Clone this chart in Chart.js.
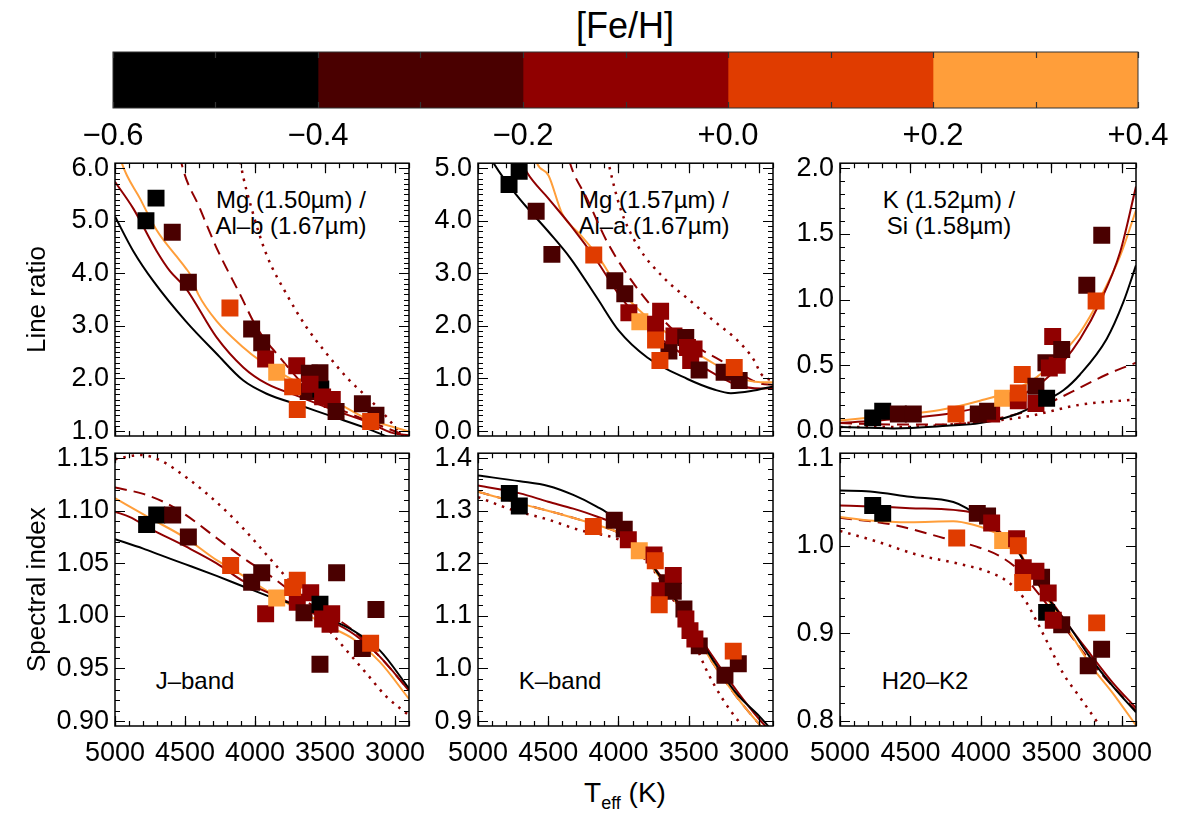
<!DOCTYPE html>
<html>
<head>
<meta charset="utf-8">
<script src="https://cdn.jsdelivr.net/npm/chart.js@4.4.1/dist/chart.umd.min.js"></script>
<style>
  body { margin: 0; background: #fff; width: 1184px; height: 818px; position: relative; overflow: hidden;
         font-family: "Liberation Sans", Arial, sans-serif; color: #000; }
  canvas { position: absolute; }
  .lbl { position: absolute; white-space: nowrap; text-align: center; }
</style>
</head>
<body>
<div class="lbl" style="left:525px;top:6px;width:200px;font-size:36px;line-height:40px;">[Fe/H]</div>
<div class="lbl" style="left:191px;top:187px;width:200px;font-size:24px;line-height:26px;">Mg (1.50µm) /<br>Al–b (1.67µm)</div>
<div class="lbl" style="left:554px;top:187px;width:200px;font-size:24px;line-height:26px;">Mg (1.57µm) /<br>Al–a (1.67µm)</div>
<div class="lbl" style="left:849px;top:187px;width:200px;font-size:24px;line-height:26px;">K (1.52µm) /<br>Si (1.58µm)</div>
<div class="lbl" style="left:95px;top:668px;width:200px;font-size:24px;line-height:26px;">J–band</div>
<div class="lbl" style="left:460px;top:668px;width:200px;font-size:24px;line-height:26px;">K–band</div>
<div class="lbl" style="left:825px;top:668px;width:200px;font-size:24px;line-height:26px;">H20–K2</div>
<div class="lbl" style="left:475px;top:777px;width:300px;font-size:28px;line-height:32px;">T<span style="font-size:18px;position:relative;top:7px;">eff</span> (K)</div>

<script>
// metallicity colour bar
const fehEdges = [-0.6, -0.4, -0.2, 0.0, 0.2, 0.4];
const fehColors = ['#000000', '#4a0000', '#900000', '#e03c00', '#ff9e3a'];
const fehTicks = [-0.6, -0.4, -0.2, 0.0, 0.2, 0.4];

const teffTicks = [5000, 4500, 4000, 3500, 3000];

// Mg (1.50um) / Al-b (1.67um)
const mgAlbTeff = [4779, 4707, 4591, 4476, 4179, 4024, 3952, 3924, 3620, 3530, 3845, 3702, 3612, 3536, 3731, 3607, 3517, 3448, 3421, 3698, 3233, 3136, 3174];
const mgAlbRatio = [5.00, 5.43, 4.78, 3.83, 3.34, 2.94, 2.68, 2.37, 1.75, 1.80, 2.12, 2.24, 2.10, 2.11, 1.84, 1.89, 1.65, 1.60, 1.37, 1.41, 1.52, 1.30, 1.18];
const mgAlbFeh = [-0.5, -0.5, -0.3, -0.3, 0.1, -0.3, -0.3, -0.1, -0.3, -0.5, 0.3, -0.1, -0.3, -0.3, 0.1, -0.1, -0.1, -0.1, -0.3, 0.1, -0.3, -0.3, 0.1];
const mgAlbBlack = [[5000, 5.08], [4869, 4.42], [4726, 3.85], [4495, 3.09], [4274, 2.47], [4083, 1.96], [3917, 1.71], [3679, 1.49], [3440, 1.27], [3202, 1.05], [3060, 0.90], [2900, 0.76]];
const mgAlbRed = [[5000, 5.74], [4869, 5.23], [4702, 4.42], [4607, 4.04], [4495, 3.72], [4274, 2.78], [4083, 2.21], [3917, 1.90], [3679, 1.65], [3440, 1.40], [3202, 1.18], [3012, 0.96], [2900, 0.92]];
const mgAlbOrange = [[5000, 6.6], [4952, 6.1], [4821, 5.42], [4702, 4.82], [4560, 4.32], [4495, 4.10], [4464, 3.98], [4405, 3.60], [4274, 3.09], [4083, 2.59], [3964, 2.34], [3679, 1.90], [3440, 1.58], [3202, 1.24], [2900, 0.99]];
const mgAlbDash = [[4560, 6.6], [4524, 6.08], [4393, 5.23], [4274, 4.48], [4107, 3.60], [3988, 2.97], [3845, 2.47], [3560, 1.65], [3321, 1.33], [3083, 1.08], [2900, 0.89]];
const mgAlbDot = [[4130, 6.6], [4100, 6.05], [4024, 5.23], [3917, 4.35], [3774, 3.60], [3631, 2.97], [3488, 2.47], [3345, 2.02], [3202, 1.65], [3060, 1.27], [2964, 0.96], [2900, 0.80]];
const mgAlbTicks = [1, 2, 3, 4, 5, 6];

// Mg (1.57um) / Al-a (1.67um)
const mgAlaTeff = [4779, 4707, 4586, 4474, 4176, 4026, 3955, 3926, 3848, 3700, 3736, 3641, 3736, 3705, 3605, 3521, 3509, 3462, 3486, 3426, 3248, 3141, 3176];
const mgAlaRatio = [4.69, 4.94, 4.18, 3.36, 3.35, 2.86, 2.61, 2.25, 2.08, 2.28, 2.03, 1.52, 1.73, 1.34, 1.81, 1.78, 1.59, 1.56, 1.34, 1.16, 1.12, 0.96, 1.21];
const mgAlaFeh = [-0.5, -0.5, -0.3, -0.3, 0.1, -0.3, -0.3, -0.1, 0.3, -0.1, -0.1, -0.3, 0.1, 0.1, -0.1, -0.3, -0.1, -0.1, -0.1, -0.3, -0.3, -0.3, 0.1];
const mgAlaBlack = [[4950, 5.4], [4890, 5.10], [4724, 4.48], [4498, 3.79], [4343, 3.29], [4152, 2.53], [3998, 1.91], [3795, 1.40], [3509, 0.99], [3319, 0.79], [3200, 0.72], [3057, 0.76], [2900, 0.85]];
const mgAlaRed = [[4720, 5.3], [4652, 4.92], [4498, 4.42], [4343, 3.92], [4152, 3.23], [3998, 2.60], [3795, 1.97], [3509, 1.40], [3319, 1.09], [3152, 0.87], [2986, 0.81], [2900, 0.82]];
const mgAlaOrange = [[4620, 5.5], [4581, 5.10], [4498, 4.86], [4402, 4.14], [4271, 3.73], [4152, 3.35], [3998, 2.72], [3795, 2.16], [3509, 1.59], [3319, 1.28], [3152, 1.02], [2986, 0.93], [2900, 0.93]];
const mgAlaDash = [[4380, 5.5], [4343, 5.08], [4224, 4.42], [4081, 3.60], [3938, 2.98], [3795, 2.47], [3629, 1.97], [3438, 1.59], [3271, 1.34], [3129, 1.09], [2986, 0.90], [2900, 0.88]];
const mgAlaDot = [[4100, 5.5], [4069, 5.08], [3986, 4.23], [3867, 3.54], [3676, 2.91], [3486, 2.47], [3319, 2.09], [3152, 1.72], [3033, 1.34], [2986, 1.09], [2900, 0.95]];
const mgAlaTicks = [0, 1, 2, 3, 4, 5];

// K (1.52um) / Si (1.58um)
const kSiTeff = [4768, 4697, 4586, 4480, 4177, 3924, 4019, 3953, 3846, 3735, 3735, 3707, 3610, 3610, 3534, 3539, 3515, 3459, 3491, 3427, 3249, 3183, 3143];
const kSiRatio = [0.10, 0.15, 0.13, 0.13, 0.13, 0.13, 0.13, 0.15, 0.25, 0.23, 0.29, 0.43, 0.34, 0.21, 0.25, 0.52, 0.48, 0.50, 0.72, 0.62, 1.11, 0.99, 1.49];
const kSiFeh = [-0.5, -0.5, -0.3, -0.3, 0.1, -0.1, -0.3, -0.3, 0.3, -0.1, 0.1, 0.1, -0.3, -0.1, -0.5, -0.3, -0.1, -0.1, -0.1, -0.3, -0.3, 0.1, -0.3];
const kSiBlack = [[5000, 0.03], [4621, 0.02], [4243, 0.04], [4007, 0.06], [3770, 0.12], [3604, 0.20], [3415, 0.31], [3297, 0.43], [3108, 0.70], [2990, 0.98], [2900, 1.26]];
const kSiRed = [[5000, 0.06], [4621, 0.09], [4243, 0.13], [4007, 0.18], [3770, 0.25], [3604, 0.34], [3415, 0.53], [3297, 0.70], [3155, 0.98], [3013, 1.36], [2900, 1.86]];
const kSiOrange = [[5000, 0.08], [4621, 0.12], [4290, 0.16], [4007, 0.23], [3770, 0.31], [3604, 0.41], [3415, 0.60], [3297, 0.75], [3155, 1.01], [3013, 1.33], [2900, 1.68]];
const kSiDash = [[5000, 0.06], [4621, 0.05], [4243, 0.05], [3911, 0.09], [3675, 0.15], [3486, 0.23], [3297, 0.33], [3108, 0.43], [2900, 0.52]];
const kSiDot = [[5000, 0.03], [4600, 0.03], [4102, 0.06], [3675, 0.11], [3297, 0.20], [2900, 0.24]];
const kSiTicks = [0.0, 0.5, 1.0, 1.5, 2.0];

// J-band index
const jBandTeff = [4774, 4702, 4588, 4476, 4174, 4024, 3952, 3924, 3845, 3698, 3731, 3698, 3650, 3602, 3536, 3517, 3464, 3452, 3417, 3536, 3233, 3136, 3174];
const jBandIndex = [1.087, 1.096, 1.096, 1.075, 1.048, 1.032, 1.041, 1.002, 1.017, 1.013, 1.027, 1.034, 1.003, 1.022, 1.011, 0.997, 0.992, 1.002, 1.041, 0.954, 0.969, 1.006, 0.974];
const jBandFeh = [-0.5, -0.5, -0.3, -0.3, 0.1, -0.3, -0.3, -0.1, 0.3, -0.1, 0.1, 0.1, -0.3, -0.1, -0.5, -0.1, -0.1, -0.1, -0.3, -0.3, -0.3, -0.3, 0.1];
const jBandBlack = [[5000, 1.073], [4798, 1.064], [4679, 1.058], [4495, 1.049], [4274, 1.038], [4083, 1.028], [3869, 1.017], [3679, 1.009], [3488, 0.998], [3298, 0.986], [3107, 0.967], [2900, 0.931]];
const jBandRed = [[5000, 1.099], [4893, 1.094], [4750, 1.083], [4495, 1.066], [4274, 1.050], [4083, 1.033], [3869, 1.020], [3679, 1.008], [3488, 0.997], [3298, 0.983], [3107, 0.961], [2900, 0.929]];
const jBandOrange = [[5000, 1.112], [4750, 1.093], [4495, 1.074], [4274, 1.053], [4083, 1.038], [3869, 1.020], [3679, 1.005], [3488, 0.991], [3298, 0.978], [3107, 0.956], [2900, 0.921]];
const jBandDash = [[5000, 1.122], [4798, 1.116], [4631, 1.107], [4495, 1.096], [4274, 1.074], [4083, 1.055], [3869, 1.036], [3679, 1.017], [3488, 1.003], [3298, 0.986], [3107, 0.961], [2900, 0.929]];
const jBandDot = [[5000, 1.149], [4821, 1.153], [4679, 1.148], [4464, 1.129], [4274, 1.108], [4083, 1.083], [3917, 1.058], [3774, 1.036], [3631, 1.011], [3488, 0.989], [3345, 0.967], [3202, 0.945], [3060, 0.923], [2905, 0.906]];
const jBandTicks = [0.90, 0.95, 1.00, 1.05, 1.10, 1.15];

// K-band index
const kBandTeff = [4777, 4706, 4179, 4030, 3959, 3930, 3852, 3747, 3738, 3652, 3610, 3705, 3610, 3710, 3534, 3520, 3491, 3425, 3456, 3242, 3147, 3183];
const kBandIndex = [1.333, 1.309, 1.270, 1.282, 1.265, 1.245, 1.224, 1.216, 1.205, 1.163, 1.177, 1.148, 1.147, 1.121, 1.113, 1.094, 1.072, 1.043, 1.056, 0.987, 1.009, 1.033];
const kBandFeh = [-0.5, -0.5, 0.1, -0.3, -0.3, -0.1, 0.3, -0.1, 0.1, -0.3, -0.1, -0.1, -0.3, 0.1, -0.3, -0.1, -0.1, -0.3, -0.1, -0.3, -0.3, 0.1];
const kBandBlack = [[5000, 1.367], [4701, 1.356], [4500, 1.347], [4322, 1.330], [4155, 1.308], [4060, 1.292], [3918, 1.248], [3799, 1.210], [3681, 1.166], [3515, 1.097], [3325, 1.015], [3159, 0.952], [2993, 0.908], [2900, 0.880]];
const kBandRed = [[5000, 1.348], [4701, 1.333], [4500, 1.317], [4322, 1.304], [4155, 1.289], [4013, 1.273], [3918, 1.251], [3799, 1.211], [3681, 1.169], [3515, 1.100], [3325, 1.021], [3159, 0.958], [2993, 0.902], [2900, 0.875]];
const kBandOrange = [[5000, 1.336], [4701, 1.314], [4393, 1.292], [4155, 1.273], [4013, 1.260], [3918, 1.245], [3799, 1.207], [3681, 1.163], [3515, 1.094], [3325, 1.009], [3159, 0.946], [3005, 0.896], [2900, 0.865]];
const kBandDash = [[5000, 1.336], [4701, 1.314], [4393, 1.292], [4155, 1.273], [4013, 1.260], [3918, 1.245], [3799, 1.207], [3681, 1.163], [3515, 1.094], [3325, 1.009], [3159, 0.946], [3005, 0.896], [2900, 0.865]];
const kBandDot = [[5000, 1.326], [4749, 1.301], [4511, 1.284], [4274, 1.263], [4037, 1.249], [3918, 1.235], [3799, 1.204], [3681, 1.160], [3539, 1.097], [3444, 1.040], [3372, 0.996], [3254, 0.940], [3123, 0.892], [3050, 0.870]];
const kBandTicks = [0.9, 1.0, 1.1, 1.2, 1.3, 1.4];

// H2O-K2 index
const h2oTeff = [4768, 4697, 4172, 4026, 3953, 3924, 3846, 3747, 3735, 3700, 3570, 3610, 3704, 3523, 3534, 3427, 3487, 3239, 3144, 3179];
const h2oIndex = [1.046, 1.037, 1.009, 1.037, 1.034, 1.026, 1.006, 1.008, 1.000, 0.975, 0.964, 0.971, 0.958, 0.946, 0.924, 0.910, 0.915, 0.863, 0.882, 0.912];
const h2oFeh = [-0.5, -0.5, 0.1, -0.3, -0.3, -0.1, 0.3, -0.1, 0.1, -0.1, -0.3, -0.1, 0.1, -0.1, -0.5, -0.3, -0.1, -0.3, -0.3, 0.1];
const h2oBlack = [[5000, 1.063], [4787, 1.062], [4504, 1.056], [4196, 1.050], [4102, 1.043], [3913, 1.020], [3771, 1.001], [3652, 0.971], [3511, 0.937], [3369, 0.907], [3227, 0.873], [3061, 0.839], [2900, 0.810]];
const h2oRed = [[5000, 1.046], [4787, 1.045], [4504, 1.043], [4196, 1.041], [4007, 1.035], [3865, 1.016], [3747, 0.997], [3652, 0.971], [3511, 0.939], [3369, 0.907], [3227, 0.877], [3061, 0.843], [2900, 0.815]];
const h2oOrange = [[5000, 1.033], [4787, 1.029], [4504, 1.027], [4196, 1.028], [4054, 1.024], [3913, 1.016], [3771, 1.005], [3652, 0.971], [3511, 0.935], [3369, 0.901], [3227, 0.865], [3061, 0.831], [2900, 0.795]];
const h2oDash = [[5000, 1.032], [4622, 1.024], [4267, 1.009], [4031, 0.999], [3865, 0.988], [3723, 0.971], [3605, 0.948], [3487, 0.924], [3369, 0.899], [3227, 0.869], [3061, 0.839], [2900, 0.812]];
const h2oDot = [[5000, 1.017], [4740, 1.005], [4456, 0.990], [4172, 0.980], [3960, 0.971], [3818, 0.960], [3700, 0.941], [3605, 0.914], [3511, 0.884], [3416, 0.854], [3298, 0.827], [3168, 0.797], [3100, 0.780]];
const h2oTicks = [0.8, 0.9, 1.0, 1.1];

const FONT = "'Liberation Sans', Arial, sans-serif";
Chart.defaults.font.family = FONT;
Chart.defaults.color = '#000';

const colX = [[115, 409], [478, 773], [840, 1136]];
const rowY = [[161, 436], [451, 726]];

const lineStyles = [
  { color: '#000000', dash: [], width: 2 },
  { color: '#900000', dash: [], width: 2 },
  { color: '#ff9e3a', dash: [], width: 2 },
  { color: '#900000', dash: [12, 7], width: 2 },
  { color: '#900000', dash: [2.5, 6], width: 2.5 }
];

const binColor = f => fehColors[Math.min(4, Math.floor((f - fehEdges[0]) / 0.2 + 1e-6))];

// inward tick marks on all four sides + frame, IDL style
const frameTicks = {
  id: 'frameTicks',
  afterDraw(chart, args, o) {
    const { ctx, chartArea: a, scales } = chart;
    ctx.save();
    ctx.strokeStyle = o.color || '#000';
    ctx.lineWidth = 1.2;
    const marks = (scale, step, len, vertical) => {
      if (!step) return;
      const n0 = Math.ceil(scale.min / step - 1e-6), n1 = Math.floor(scale.max / step + 1e-6);
      ctx.beginPath();
      for (let n = n0; n <= n1; n++) {
        const p = Math.round(scale.getPixelForValue(n * step)) + 0.5;
        if (vertical) {
          ctx.moveTo(p, a.bottom); ctx.lineTo(p, a.bottom - len);
          ctx.moveTo(p, a.top); ctx.lineTo(p, a.top + len);
        } else {
          ctx.moveTo(a.left, p); ctx.lineTo(a.left + len, p);
          ctx.moveTo(a.right, p); ctx.lineTo(a.right - len, p);
        }
      }
      ctx.stroke();
    };
    marks(scales.x, o.xMinor, 5, true);
    marks(scales.x, o.xMajor, o.majorLen || 10, true);
    if (o.yMajor) {
      marks(scales.y, o.yMinor, 5, false);
      marks(scales.y, o.yMajor, 10, false);
    }
    ctx.lineWidth = o.frameWidth || 1.5;
    ctx.strokeRect(a.left, a.top, a.right - a.left, a.bottom - a.top);
    ctx.restore();
  }
};

const panels = [
  { col: 0, row: 0, teff: mgAlbTeff, vals: mgAlbRatio, feh: mgAlbFeh, lines: [mgAlbBlack, mgAlbRed, mgAlbOrange, mgAlbDash, mgAlbDot],
    yMin: 0.906, yMax: 6.094, yTicks: mgAlbTicks, dec: 1, yMajor: 1, yMinor: 0.1, title: 'Line ratio' },
  { col: 1, row: 0, teff: mgAlaTeff, vals: mgAlaRatio, feh: mgAlaFeh, lines: [mgAlaBlack, mgAlaRed, mgAlaOrange, mgAlaDash, mgAlaDot],
    yMin: -0.094, yMax: 5.094, yTicks: mgAlaTicks, dec: 1, yMajor: 1, yMinor: 0.1 },
  { col: 2, row: 0, teff: kSiTeff, vals: kSiRatio, feh: kSiFeh, lines: [kSiBlack, kSiRed, kSiOrange, kSiDash, kSiDot],
    yMin: -0.038, yMax: 2.038, yTicks: kSiTicks, dec: 1, yMajor: 0.5, yMinor: 0.1 },
  { col: 0, row: 1, teff: jBandTeff, vals: jBandIndex, feh: jBandFeh, lines: [jBandBlack, jBandRed, jBandOrange, jBandDash, jBandDot],
    yMin: 0.8953, yMax: 1.1547, yTicks: jBandTicks, dec: 2, yMajor: 0.05, yMinor: 0.01, title: 'Spectral index' },
  { col: 1, row: 1, teff: kBandTeff, vals: kBandIndex, feh: kBandFeh, lines: [kBandBlack, kBandRed, kBandOrange, kBandDash, kBandDot],
    yMin: 0.8906, yMax: 1.4094, yTicks: kBandTicks, dec: 1, yMajor: 0.1, yMinor: 0.02 },
  { col: 2, row: 1, teff: h2oTeff, vals: h2oIndex, feh: h2oFeh, lines: [h2oBlack, h2oRed, h2oOrange, h2oDash, h2oDot],
    yMin: 0.7943, yMax: 1.1057, yTicks: h2oTicks, dec: 1, yMajor: 0.1, yMinor: 0.02 }
];

function makePanel(p) {
  const [L, R] = colX[p.col], [T, B] = rowY[p.row];
  const yW = p.col === 0 ? 97 : 75, padT = 20, padR = 45, xH = 55;
  const cv = document.createElement('canvas');
  cv.width = yW + R - L + padR;
  cv.height = padT + B - T + xH;
  cv.style.left = (L - yW) + 'px';
  cv.style.top = (T - padT) + 'px';
  document.body.appendChild(cv);

  const datasets = [{
    data: p.teff.map((t, i) => ({ x: t, y: p.vals[i] })),
    pointStyle: 'rect',
    pointRadius: 12,
    pointBorderWidth: 0,
    pointBackgroundColor: p.feh.map(binColor),
    showLine: false,
    order: 0
  }];
  p.lines.forEach((ln, k) => {
    const s = lineStyles[k];
    datasets.push({
      data: ln.map(([x, y]) => ({ x, y })),
      showLine: true,
      pointRadius: 0,
      borderColor: s.color,
      borderWidth: s.width,
      borderDash: s.dash,
      cubicInterpolationMode: 'monotone',
      order: k + 1
    });
  });

  new Chart(cv, {
    type: 'scatter',
    data: { datasets },
    plugins: [frameTicks],
    options: {
      responsive: false,
      animation: false,
      events: [],
      layout: { padding: { top: padT, right: padR, left: 0, bottom: 0 } },
      scales: {
        x: {
          type: 'linear', reverse: true, min: 2900, max: 5000,
          grid: { display: false, drawTicks: false }, border: { display: false },
          afterBuildTicks: s => { s.ticks = teffTicks.map(v => ({ value: v })); },
          afterFit: s => { s.height = xH; },
          ticks: { display: p.row === 1, font: { size: 27 }, color: '#000', padding: 11, maxRotation: 0, autoSkip: false,
                   callback: v => String(v) }
        },
        y: {
          type: 'linear', min: p.yMin, max: p.yMax,
          grid: { display: false, drawTicks: false }, border: { display: false },
          afterBuildTicks: s => { s.ticks = p.yTicks.map(v => ({ value: v })); },
          afterFit: s => { s.width = yW; },
          ticks: { font: { size: 27 }, color: '#000', padding: 6, autoSkip: false,
                   callback: v => v.toFixed(p.dec) },
          title: { display: !!p.title, text: p.title || '', color: '#000', font: { size: 26 },
                   padding: { top: 4, bottom: 0 } }
        }
      },
      plugins: {
        legend: { display: false },
        tooltip: { enabled: false },
        frameTicks: { xMajor: 500, xMinor: 100, yMajor: p.yMajor, yMinor: p.yMinor }
      }
    }
  });
}

panels.forEach(makePanel);

// colour bar
(function () {
  const cv = document.createElement('canvas');
  cv.width = 1184; cv.height = 160;
  cv.style.left = '0px'; cv.style.top = '0px';
  document.body.appendChild(cv);
  new Chart(cv, {
    type: 'bar',
    data: {
      labels: ['[Fe/H]'],
      datasets: fehColors.map((c, i) => ({
        data: [[fehEdges[i], fehEdges[i + 1]]],
        backgroundColor: c,
        borderWidth: 0,
        grouped: false,
        barPercentage: 1,
        categoryPercentage: 1
      }))
    },
    plugins: [frameTicks],
    options: {
      indexAxis: 'y',
      responsive: false,
      animation: false,
      events: [],
      layout: { padding: { left: 113, right: 46, top: 52, bottom: 0 } },
      scales: {
        x: {
          type: 'linear', min: -0.6, max: 0.4,
          grid: { display: false, drawTicks: false }, border: { display: false },
          afterBuildTicks: s => { s.ticks = fehTicks.map(v => ({ value: v })); },
          afterFit: s => { s.height = 52; },
          ticks: { font: { size: 31 }, color: '#000', padding: 10, maxRotation: 0, autoSkip: false,
                   callback: v => (v < -1e-9 ? '\u2212' : '+') + Math.abs(v).toFixed(1) }
        },
        y: { display: false }
      },
      plugins: {
        legend: { display: false },
        tooltip: { enabled: false },
        frameTicks: { xMajor: 0.1, xMinor: 0, majorLen: 6, color: '#333', frameWidth: 1 }
      }
    }
  });
})();
</script>
</body>
</html>
